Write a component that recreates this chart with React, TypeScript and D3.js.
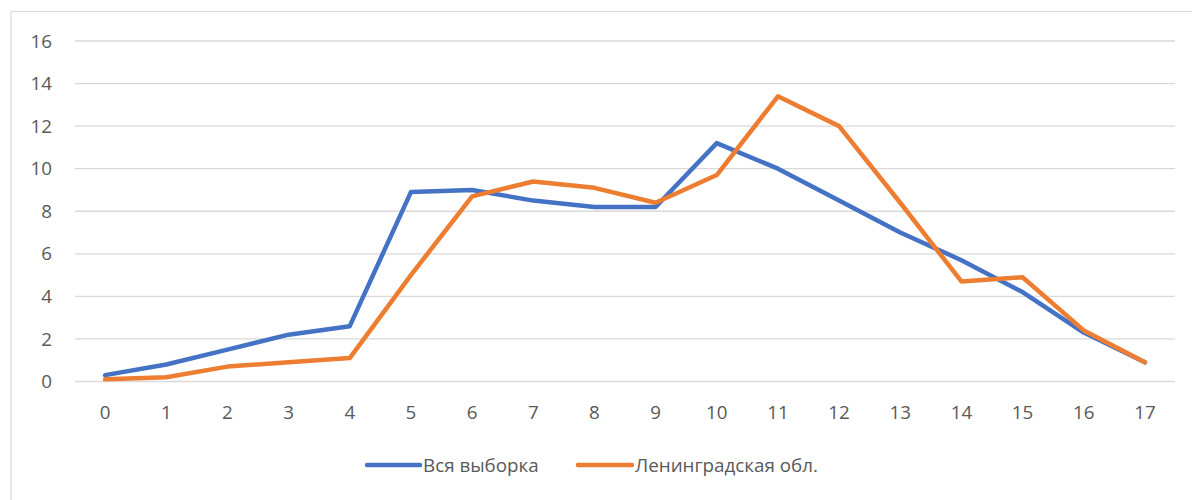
import React from "react";
import * as d3 from "d3";

const categories = ["0","1","2","3","4","5","6","7","8","9","10","11","12","13","14","15","16","17"];
const seriesAll = [0.3, 0.8, 1.5, 2.2, 2.6, 8.9, 9.0, 8.5, 8.2, 8.2, 11.2, 10.0, 8.5, 7.0, 5.7, 4.2, 2.3, 0.9];
const seriesLen = [0.1, 0.2, 0.7, 0.9, 1.1, 5.0, 8.7, 9.4, 9.1, 8.4, 9.7, 13.4, 12.0, 8.4, 4.7, 4.9, 2.4, 0.9];
const yTicks = [0, 2, 4, 6, 8, 10, 12, 14, 16];
const seriesNames = ["Вся выборка", "Ленинградская обл."];
const colors = ["#4472C4", "#ED7D31"];

const W = 1192, H = 500;
const FONT = "'Open Sans', 'Liberation Sans', Arial, sans-serif";
const FS = 18.8;

export default function App() {
  const x = d3.scaleBand<string>().domain(categories).range([74.5, 1175.5]);
  const y = d3.scaleLinear().domain([0, 16]).range([381.5, 41]);
  const cx = (c: string) => (x(c) as number) + x.bandwidth() / 2;
  const line = d3.line<number>().x((_, i) => cx(categories[i])).y(d => y(d));
  const data = [seriesAll, seriesLen];
  const legend = [
    { x1: 367, x2: 420, tx: 423 },
    { x1: 578, x2: 632, tx: 635 },
  ];
  return (
    <svg width={W} height={H} style={{ position: "absolute", left: 0, top: 0 }} fontFamily={FONT}>
      <rect x={0} y={0} width={W} height={H} fill="#fff" />
      <rect x={11} y={11.5} width={1200} height={600} fill="none" stroke="#D9D9D9" strokeWidth={1.2} />
      {yTicks.map(t => (
        <g key={t}>
          <line x1={75} x2={1175} y1={y(t)} y2={y(t)} stroke="#D9D9D9" strokeWidth={1.3} />
          <text x={52} y={y(t)} dy="0.35em" textAnchor="end" fontSize={FS} fill="#595959">{t}</text>
        </g>
      ))}
      {categories.map(c => (
        <text key={c} x={cx(c)} y={412} dy="0.35em" textAnchor="middle" fontSize={FS} fill="#595959">{c}</text>
      ))}
      {data.map((d, i) => (
        <path key={i} d={line(d) || ""} fill="none" stroke={colors[i]} strokeWidth={4.5} strokeLinejoin="round" strokeLinecap="round" />
      ))}
      {legend.map((l, i) => (
        <g key={i}>
          <line x1={l.x1} x2={l.x2} y1={465} y2={465} stroke={colors[i]} strokeWidth={4.5} strokeLinecap="round" />
          <text x={l.tx} y={465} dy="0.35em" fontSize={FS} fill="#595959">{seriesNames[i]}</text>
        </g>
      ))}
    </svg>
  );
}
